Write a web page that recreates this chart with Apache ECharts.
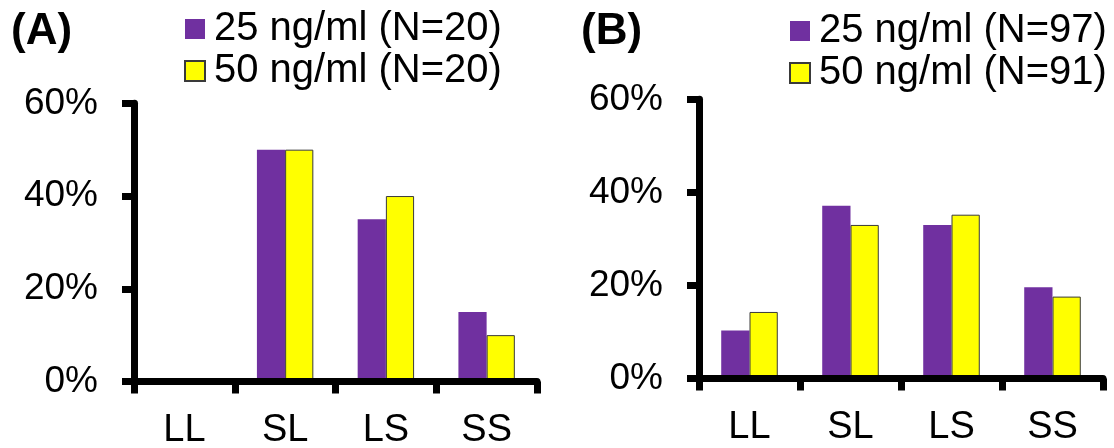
<!DOCTYPE html>
<html>
<head>
<meta charset="utf-8">
<script src="https://cdn.jsdelivr.net/npm/echarts@6/dist/echarts.min.js"></script>
<style>
html,body{margin:0;padding:0;background:#fff;}
#chart{width:1114px;height:448px;}
</style>
</head>
<body>
<div id="chart"></div>
<script>
// ---- data ----
const categories = ['LL', 'SL', 'LS', 'SS'];
const panelTitles = ['(A)', '(B)'];
const namesA = ['25 ng/ml (N=20)', '50 ng/ml (N=20)'];
const namesB = ['25 ng/ml (N=97)', '50 ng/ml (N=91)'];
const valuesA25 = [0, 50, 35, 15];
const valuesA50 = [0, 50, 40, 10];
const valuesB25 = [10.3, 37.1, 33.0, 19.6];
const valuesB50 = [14.3, 33.0, 35.2, 17.6];
const yMin = 0, yMax = 60, yStep = 20;

// ---- styles ----
const FONT = "'Liberation Sans', Arial, sans-serif";
const PURPLE = '#7030A0';
const YELLOW = '#FFFF00';
const LW = 7;

function xAxis(gi) {
  return {
    type: 'category', gridIndex: gi, data: categories, z: 5,
    axisLine: { lineStyle: { color: '#000', width: LW } },
    axisTick: { show: true, length: 12, lineStyle: { color: '#000', width: LW } },
    axisLabel: { color: '#000', fontSize: 38, fontFamily: FONT, margin: 30 }
  };
}
function yAxis(gi) {
  return {
    type: 'value', gridIndex: gi, min: yMin, max: yMax, interval: yStep, z: 5,
    axisLine: { show: true, lineStyle: { color: '#000', width: LW } },
    axisTick: { show: true, length: 12, lineStyle: { color: '#000', width: LW } },
    splitLine: { show: false },
    axisLabel: { color: '#000', fontSize: 37, fontFamily: FONT, margin: 36, formatter: '{value}%' }
  };
}
function bar(name, data, idx, color, border) {
  return {
    type: 'bar', name: name, data: data,
    xAxisIndex: idx, yAxisIndex: idx,
    barWidth: '28%', barGap: '0%',
    itemStyle: border ? { color: color, borderColor: '#3a3a3a', borderWidth: 1 } : { color: color },
    emphasis: { disabled: true }
  };
}
function legend(data, left, top) {
  return {
    data: data, orient: 'vertical', left: left, top: top, padding: 0,
    itemWidth: 20, itemHeight: 20, itemGap: 2, icon: 'rect',
    textStyle: { color: '#000', fontSize: 40, fontFamily: FONT, lineHeight: 40, padding: [0, 0, 0, 4] }
  };
}

const chart = echarts.init(document.getElementById('chart'), null, { renderer: 'canvas' });
chart.setOption({
  animation: false,
  backgroundColor: '#fff',
  title: [
    { text: panelTitles[0], left: 11, top: 10, padding: 0, textStyle: { fontSize: 44, fontWeight: 'bold', fontFamily: FONT, color: '#000' } },
    { text: panelTitles[1], left: 581, top: 10, padding: 0, textStyle: { fontSize: 44, fontWeight: 'bold', fontFamily: FONT, color: '#000' } }
  ],
  legend: [legend(namesA, 184, 9), legend(namesB, 789, 11)],
  grid: [
    { left: 134, top: 103.3, width: 403, height: 278.2, containLabel: false, outerBoundsMode: 'none' },
    { left: 699, top: 99.3, width: 404, height: 279.2, containLabel: false, outerBoundsMode: 'none' }
  ],
  xAxis: [xAxis(0), xAxis(1)],
  yAxis: [yAxis(0), yAxis(1)],
  series: [
    bar(namesA[0], valuesA25, 0, PURPLE, false),
    bar(namesA[1], valuesA50, 0, YELLOW, true),
    bar(namesB[0], valuesB25, 1, PURPLE, false),
    bar(namesB[1], valuesB50, 1, YELLOW, true)
  ]
});
</script>
</body>
</html>
